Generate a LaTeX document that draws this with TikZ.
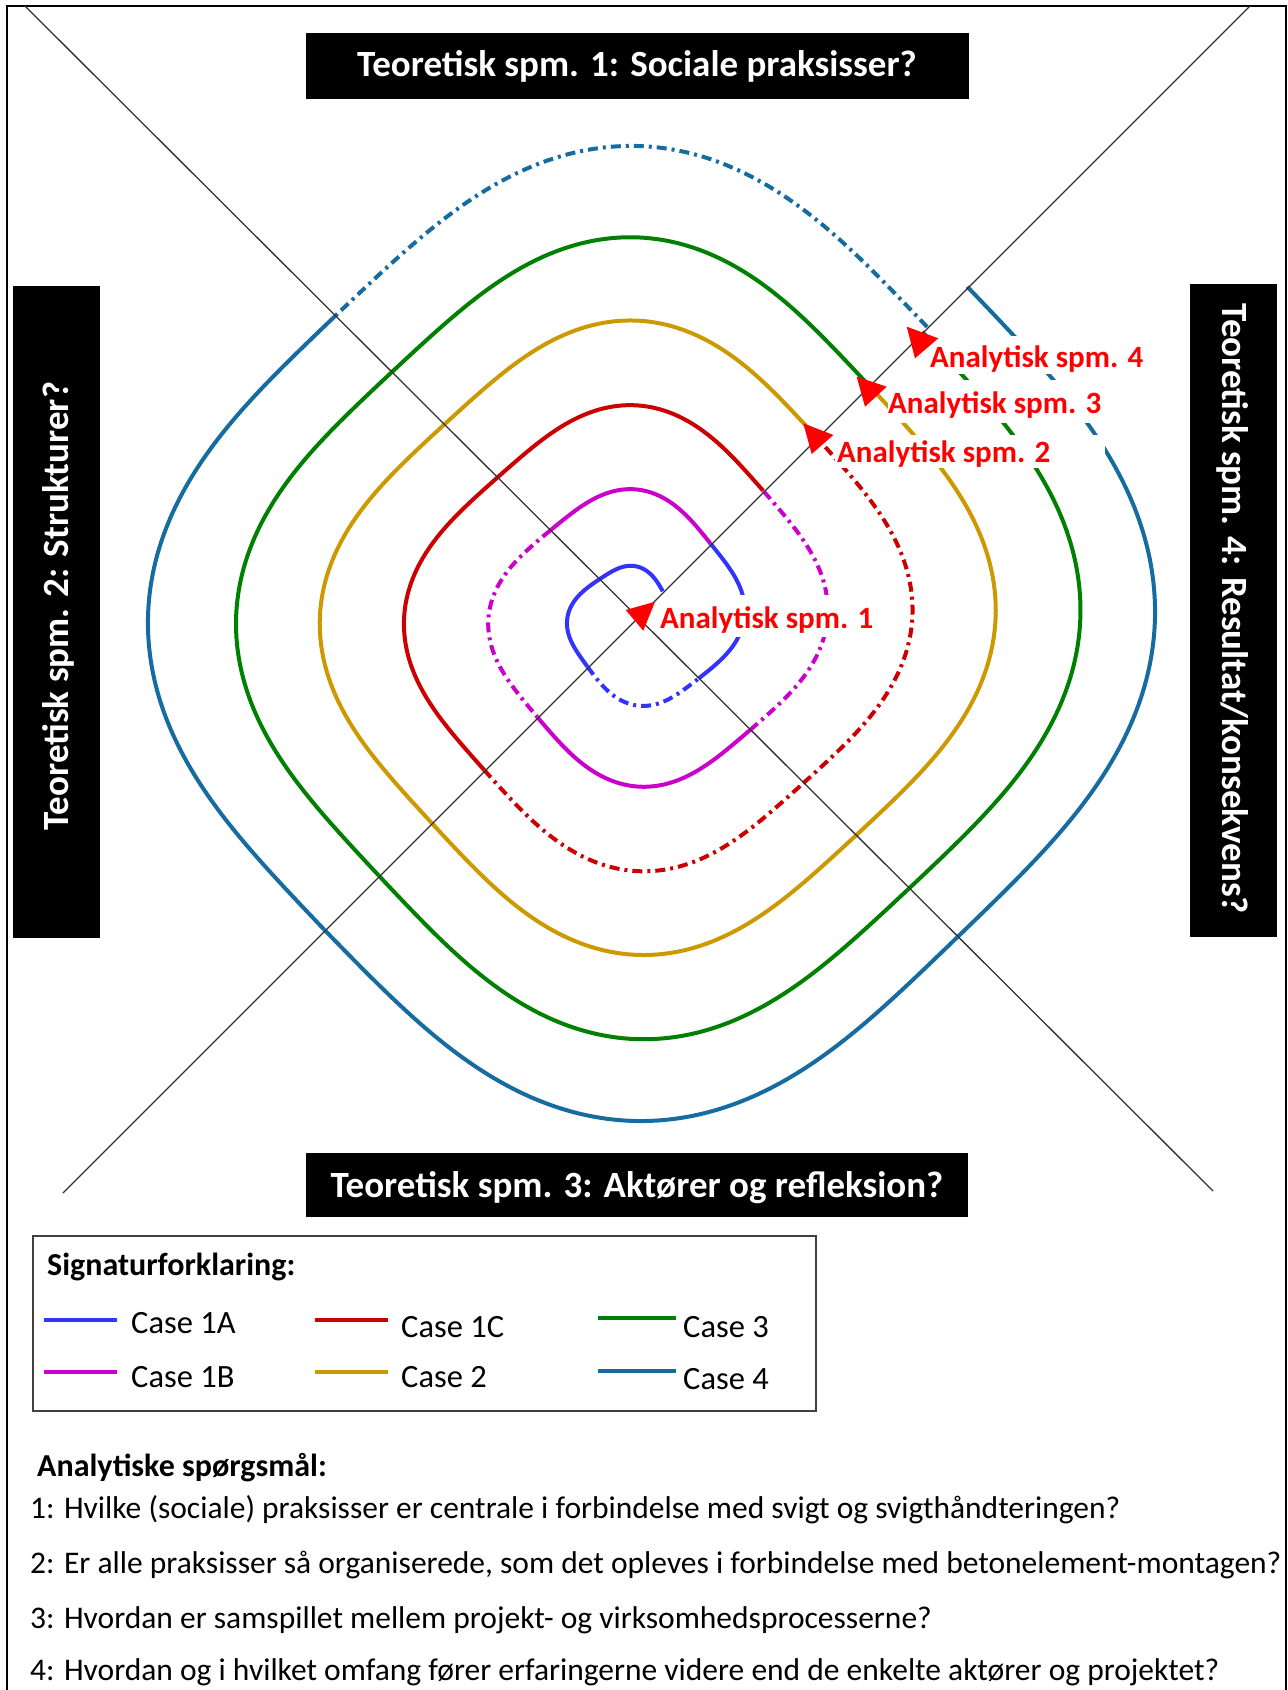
\documentclass[tikz,border=0pt]{standalone}
\usepackage{fontspec}
\setmainfont{Carlito}
\definecolor{cA}{RGB}{51,51,255}
\definecolor{cB}{RGB}{204,0,204}
\definecolor{cC}{RGB}{204,0,0}
\definecolor{cTwo}{RGB}{204,153,0}
\definecolor{cThree}{RGB}{0,128,0}
\definecolor{cFour}{RGB}{22,108,160}
\definecolor{labred}{RGB}{255,0,0}
\definecolor{diaggray}{RGB}{50,50,50}
\definecolor{legframe}{RGB}{64,64,64}
% #1 style, #2 radius at start, #3 radius at end, #4 start angle, #5 end angle
\newcommand\spiralseg[5]{%
  \draw[#1] plot[smooth, variable=\t, domain=#4:#5, samples=91]
   ({637+(#2+(#3-#2)*((\t-#4)/(#5-#4)))*sf(\t)*cos(\t)},
    {617-(#2+(#3-#2)*((\t-#4)/(#5-#4)))*sf(\t)*sin(\t)});}
\begin{document}
\begin{tikzpicture}[x=1pt,y=-1pt,
  declare function={
    sf(\t)=0.943+0.056*cos(4*\t)+0.001*cos(8*\t);
  },
  ring/.style={line width=4pt, line cap=butt, line join=round},
  dd/.style={dash pattern=on 10pt off 5pt on 3pt off 5pt},
  blackbox/.style={fill=black, draw=none, inner sep=0pt},
  boxtext/.style={text=white, font=\bfseries\fontsize{37}{44}\selectfont, inner sep=0pt},
  redlab/.style={text=labred, font=\bfseries\fontsize{31}{37}\selectfont, inner sep=0pt, anchor=base west},
  legtext/.style={font=\fontsize{32.5}{38}\selectfont, inner sep=0pt, anchor=base west},
  legtitle/.style={font=\bfseries\fontsize{32}{38}\selectfont, inner sep=0pt, anchor=base west},
  qtext/.style={font=\fontsize{31.5}{38}\selectfont, inner sep=0pt, anchor=base west},
  diag/.style={line width=1.3pt, draw=diaggray},
  legline/.style={line width=4pt},
  arrowhead/.style={fill=labred, draw=none}
]
\useasboundingbox (0,0) rectangle (1288,1690);
\fill[white] (0,0) rectangle (1288,1690);
% outer frame
\draw[line width=2pt] (7,1700) -- (7,6) -- (1286,6) -- (1286,1700);

% spiral rings: top, left, bottom, right quadrants
% Case 1A
\spiralseg{ring,cA}{41}{60}{45}{135}
\spiralseg{ring,cA}{60}{79}{135}{225}
\spiralseg{ring,cA,dd}{79}{98}{225}{315}
\spiralseg{ring,cA}{98}{117}{315}{405}
% Case 1B
\spiralseg{ring,cB}{117}{138}{45}{135}
\spiralseg{ring,cB,dd}{138}{159}{135}{225}
\spiralseg{ring,cB}{159}{180}{225}{315}
\spiralseg{ring,cB,dd}{180}{201}{315}{405}
% Case 1C
\spiralseg{ring,cC}{201}{222.25}{45}{135}
\spiralseg{ring,cC}{222.25}{243.5}{135}{225}
\spiralseg{ring,cC,dd}{243.5}{264.75}{225}{315}
\spiralseg{ring,cC,dd}{264.75}{286}{315}{405}
% Case 2
\spiralseg{ring,cTwo}{286}{306.75}{45}{135}
\spiralseg{ring,cTwo}{306.75}{327.5}{135}{225}
\spiralseg{ring,cTwo}{327.5}{348.25}{225}{315}
\spiralseg{ring,cTwo}{348.25}{369}{315}{405}
% Case 3
\spiralseg{ring,cThree}{369}{390.25}{45}{135}
\spiralseg{ring,cThree}{390.25}{411.5}{135}{225}
\spiralseg{ring,cThree}{411.5}{432.75}{225}{315}
\spiralseg{ring,cThree}{432.75}{454}{315}{405}
% Case 4
\spiralseg{ring,cFour,dd}{462}{480}{45}{135}
\spiralseg{ring,cFour}{480}{498}{135}{225}
\spiralseg{ring,cFour}{498}{510}{225}{315}
\spiralseg{ring,cFour}{510}{526}{315}{405}

% white backgrounds of the label text boxes
\fill[white] (912,336) rectangle (1150,374);
\fill[white] (888,380) rectangle (1105,423);
\fill[white] (835,435) rectangle (1105,468);
\fill[white] (655,595) rectangle (880,637);

% diagonals
\coordinate (A1) at (25,6);
\coordinate (A2) at (1213,1191);
\coordinate (B1) at (1250,6);
\coordinate (B2) at (63,1193);
\draw[diag] (A1) -- (A2);
\draw[diag] (B1) -- (B2);

% labels
\node[redlab] (an1) at (660,628) {Analytisk spm. 1};
\node[redlab] (an2) at (837,462) {Analytisk spm. 2};
\node[redlab] (an3) at (888,413) {Analytisk spm. 3};
\node[redlab] (an4) at (930,367) {Analytisk spm. 4};

% arrowheads
\fill[arrowhead] (625.7,610) -- (655,601.7) -- (643.3,630.7) -- cycle;
\fill[arrowhead] (803.3,423.3) -- (833.3,435) -- (811.7,454) -- cycle;
\fill[arrowhead] (856.7,376.7) -- (886.7,386.7) -- (865,406.7) -- cycle;
\fill[arrowhead] (906.7,326.7) -- (938.3,338.3) -- (915,358.3) -- cycle;

% black boxes
\node[blackbox, minimum width=663pt, minimum height=66pt] (box1) at (637.5,66) {};
\node[boxtext, anchor=base] (tq1) at (637,76) {Teoretisk spm. 1: Sociale praksisser?};
\node[blackbox, minimum width=662pt, minimum height=64pt] (box3) at (637,1185) {};
\node[boxtext, anchor=base] (tq3) at (637,1197) {Teoretisk spm. 3: Aktører og refleksion?};
\node[blackbox, minimum width=87pt, minimum height=652pt] (box2) at (56.5,612) {};
\node[boxtext, anchor=base, rotate=90] (tq2) at (68,606) {Teoretisk spm. 2: Strukturer?};
\node[blackbox, minimum width=87pt, minimum height=653pt] (box4) at (1233.5,610.5) {};
\node[boxtext, anchor=base, rotate=-90] (tq4) at (1222,609) {Teoretisk spm. 4: Resultat/konsekvens?};

% legend
\node[draw=legframe, line width=2pt, minimum width=783pt, minimum height=175pt, inner sep=0pt] (legend) at (424.5,1323.5) {};
\node[legtitle] (legt) at (47,1275) {Signaturforklaring:};
\coordinate (l1a) at (44,1320); \coordinate (l1b) at (117,1320);
\coordinate (l2a) at (44,1372); \coordinate (l2b) at (117,1372);
\coordinate (l3a) at (315,1320); \coordinate (l3b) at (388,1320);
\coordinate (l4a) at (315,1372); \coordinate (l4b) at (388,1372);
\coordinate (l5a) at (598,1318); \coordinate (l5b) at (676,1318);
\coordinate (l6a) at (598,1371); \coordinate (l6b) at (676,1371);
\draw[legline, cA] (l1a) -- (l1b);
\draw[legline, cB] (l2a) -- (l2b);
\draw[legline, cC] (l3a) -- (l3b);
\draw[legline, cTwo] (l4a) -- (l4b);
\draw[legline, cThree] (l5a) -- (l5b);
\draw[legline, cFour] (l6a) -- (l6b);
\node[legtext] (c1a) at (131,1333) {Case 1A};
\node[legtext] (c1b) at (131,1387) {Case 1B};
\node[legtext] (c1c) at (401,1337) {Case 1C};
\node[legtext] (c2) at (401,1387) {Case 2};
\node[legtext] (c3) at (683,1337) {Case 3};
\node[legtext] (c4) at (683,1389) {Case 4};

% analytical questions
\node[legtitle] (aqt) at (37,1476) {Analytiske spørgsmål:};
\node[qtext] (q1) at (30,1518) {1: Hvilke (sociale) praksisser er centrale i forbindelse med svigt og svigthåndteringen?};
\node[qtext] (q2) at (30,1573) {2: Er alle praksisser så organiserede, som det opleves i forbindelse med betonelement-montagen?};
\node[qtext] (q3) at (30,1628) {3: Hvordan er samspillet mellem projekt- og virksomhedsprocesserne?};
\node[qtext] (q4) at (30,1680) {4: Hvordan og i hvilket omfang fører erfaringerne videre end de enkelte aktører og projektet?};
\end{tikzpicture}
\end{document}
